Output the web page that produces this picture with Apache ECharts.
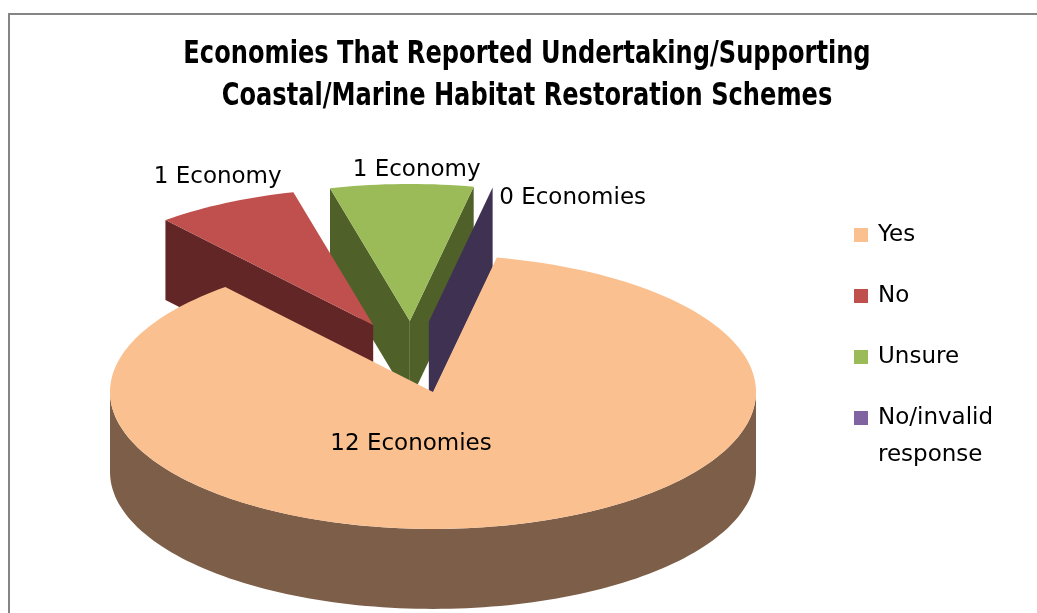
<!DOCTYPE html>
<html>
<head>
<meta charset="utf-8">
<script src="https://cdn.jsdelivr.net/npm/echarts@6/dist/echarts.min.js"></script>
<style>
  html, body { margin: 0; padding: 0; background: #ffffff; }
  #chart { width: 1037px; height: 613px; }
</style>
</head>
<body>
<div id="chart"></div>
<script>
// Survey answers: number of economies per response
const categories = ['Yes', 'No', 'Unsure', 'No/invalid response'];
const counts = [12, 1, 1, 0];
const labelTexts = ['12 Economies', '1 Economy', '1 Economy', '0 Economies'];
const titleLines = [
  'Economies That Reported Undertaking/Supporting',
  'Coastal/Marine Habitat Restoration Schemes'
];

// Colours: top faces and darker side walls
const topColors = ['#FAC090', '#C0504D', '#9BBB59', '#8064A2'];
const sideColors = ['#7D5F49', '#612625', '#4F6129', '#3F3151'];

// Tilted-pie geometry (pixels / degrees)
const PIE = { cx: 412, cy: 357, rx: 323, ry: 137, depth: 80, explode: 0.263, startAngle: 78.6 };
// Fine placement of each data label relative to its anchor
const LABEL_NUDGE = [[-22, 52], [-8, -26], [15, -13.5], [80, 10.5]];

const LABEL_FONT = '23px "DejaVu Sans"';
const total = counts.reduce((a, b) => a + b, 0);
const rad = d => d * Math.PI / 180;

function renderSlice(params, api) {
  const i = params.seriesIndex;
  const value = api.value(0);
  let before = 0;
  for (let k = 0; k < i; k++) before += counts[k];
  // slices run clockwise from startAngle; [lo, hi] is the counter-clockwise span
  const hi = PIE.startAngle - before / total * 360;
  const lo = hi - value / total * 360;
  const mid = (lo + hi) / 2;
  const ox = PIE.rx * PIE.explode * Math.cos(rad(mid));
  const oy = -PIE.ry * PIE.explode * Math.sin(rad(mid));
  const pt = (r, a, h) => [
    PIE.cx + ox + PIE.rx * r * Math.cos(rad(a)),
    PIE.cy + oy - PIE.ry * r * Math.sin(rad(a)) + h
  ];
  const arc = (a0, a1, h) => {
    const n = Math.max(1, Math.ceil(Math.abs(a1 - a0) / 1.5));
    const out = [];
    for (let s = 0; s <= n; s++) out.push(pt(1, a0 + (a1 - a0) * s / n, h));
    return out;
  };
  // painter's order: parts nearer the viewer (lower on the plane) get higher z2
  const depthKey = v => Math.round(5000 - v * 1000);
  const vOff = PIE.explode * Math.sin(rad(mid));
  const side = sideColors[i];
  const children = [];

  // outer rim wall, only the front-facing half
  for (let k = -2; k <= 2; k++) {
    const a = Math.max(lo, 180 + 360 * k);
    const b = Math.min(hi, 360 + 360 * k);
    if (b > a) {
      children.push({
        type: 'polygon',
        z2: depthKey(vOff + Math.sin(rad((a + b) / 2))),
        shape: { points: arc(a, b, 0).concat(arc(b, a, PIE.depth)) },
        style: { fill: side }
      });
    }
  }

  // radial cut faces that face the viewer
  const radial = a => ({
    type: 'polygon',
    z2: depthKey(vOff + 0.5 * Math.sin(rad(a))),
    shape: { points: [pt(0, a, 0), pt(1, a, 0), pt(1, a, PIE.depth), pt(0, a, PIE.depth)] },
    style: { fill: side }
  });
  if (Math.sin(rad(lo - 90)) < 0) children.push(radial(lo));
  if (Math.sin(rad(hi + 90)) < 0) children.push(radial(hi));

  // top face
  if (hi > lo) {
    children.push({
      type: 'polygon',
      z2: 10000,
      shape: { points: [pt(0, mid, 0)].concat(arc(lo, hi, 0)) },
      style: { fill: topColors[i] }
    });
  }

  // data label: inside for the large slice, beyond the rim for the others
  const inside = total > 0 && value / total > 0.5;
  const anchor = inside ? pt(0, mid, 0) : pt(1, mid, 0);
  children.push({
    type: 'text',
    z2: 20000,
    x: anchor[0] + LABEL_NUDGE[i][0],
    y: anchor[1] + LABEL_NUDGE[i][1],
    style: {
      text: labelTexts[i],
      font: LABEL_FONT,
      fill: '#000000',
      align: 'center',
      verticalAlign: 'middle'
    }
  });

  return { type: 'group', children };
}

const legendText = {
  fontFamily: 'DejaVu Sans',
  fontSize: 23,
  color: '#000000',
  padding: [0, 0, 0, 5]
};

const chart = echarts.init(document.getElementById('chart'), null, { renderer: 'canvas' });
chart.setOption({
  animation: false,
  backgroundColor: '#ffffff',
  legend: [
    {
      data: categories.slice(0, 3),
      orient: 'vertical',
      left: 854,
      top: 220,
      padding: 0,
      icon: 'rect',
      itemWidth: 14,
      itemHeight: 14,
      itemGap: 31,
      selectedMode: false,
      textStyle: Object.assign({ lineHeight: 30 }, legendText)
    },
    {
      // two-line entry: a blank first line keeps the swatch beside "No/invalid"
      data: categories.slice(3),
      orient: 'vertical',
      left: 854,
      top: 362.5,
      padding: 0,
      icon: 'rect',
      itemWidth: 14,
      itemHeight: 14,
      selectedMode: false,
      formatter: name => '\n' + name.replace(' ', '\n'),
      textStyle: Object.assign({ lineHeight: 37 }, legendText)
    }
  ],
  graphic: [
    {
      type: 'rect',
      silent: true,
      shape: { x: 9, y: 14, width: 1100, height: 700 },
      style: { fill: 'none', stroke: '#858585', lineWidth: 2 }
    },
    {
      // chart title, set in a narrowed bold face
      type: 'text',
      silent: true,
      x: 527,
      y: 76,
      scaleX: 0.838,
      style: {
        text: titleLines.join('\n'),
        font: 'bold 32px "DejaVu Sans Condensed", "DejaVu Sans"',
        lineHeight: 42,
        fill: '#000000',
        align: 'center',
        verticalAlign: 'middle'
      }
    }
  ],
  series: categories.map((name, i) => ({
    type: 'custom',
    name: name,
    coordinateSystem: 'none',
    color: topColors[i],
    silent: true,
    data: [counts[i]],
    renderItem: renderSlice
  }))
});
</script>
</body>
</html>
